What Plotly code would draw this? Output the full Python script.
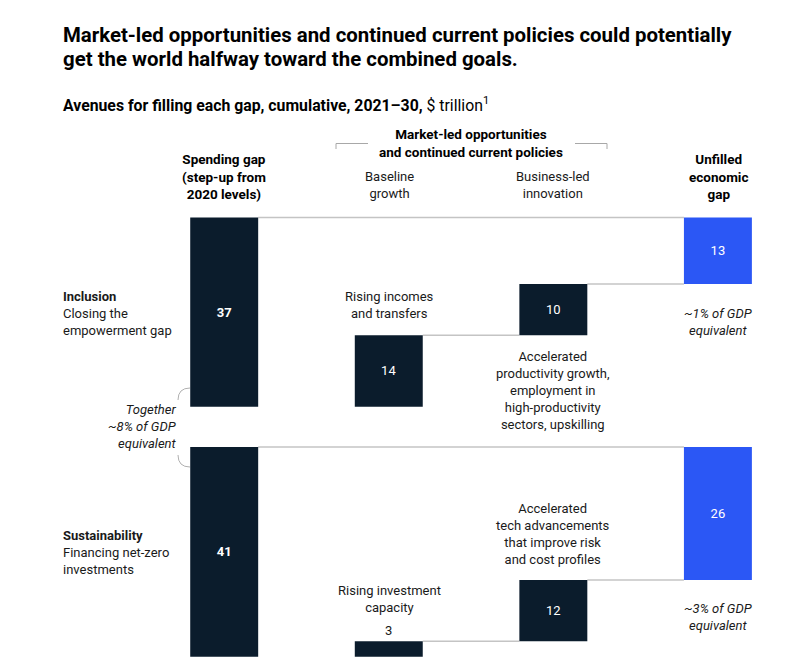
import plotly.graph_objects as go

# values, $ trillion, cumulative 2021-30
columns = ["Spending gap", "Baseline growth", "Business-led innovation", "Unfilled economic gap"]
inclusion_values = [37, 14, 10, 13]
sustainability_values = [41, 3, 12, 26]
bar_kind = ["gap", "avenue", "avenue", "unfilled"]

# the page body keeps its default 8px margin, so the figure is drawn 8px in
PAGE_W, PAGE_H = 804, 672
PAD = 8
W, H = PAGE_W - 2 * PAD, PAGE_H - 2 * PAD
NAVY = "#0b1c2c"
BLUE = "#2b57f5"
GREY_LINE = "#c4c4c4"
TEXT = "#1a1a1a"
FONT = "Roboto"
BAR_W = 0.413


def px(x):
    return (x - PAD) / W


def py(y):
    return 1 - (y - PAD) / H


def bases(values):
    # first bar is the total, the rest stack up from zero
    out = [0]
    run = 0
    for v in values[1:]:
        out.append(run)
        run += v
    return out


def bar_labels(values):
    labels = []
    for i, v in enumerate(values):
        labels.append(f"<b>{v}</b>" if i == 0 else str(v))
    return labels


xs = list(range(len(columns)))
colors = [BLUE if k == "unfilled" else NAVY for k in bar_kind]

fig = go.Figure()
for values, yaxis in [(inclusion_values, "y"), (sustainability_values, "y2")]:
    fig.add_trace(go.Bar(
        x=xs, y=values, base=bases(values), width=BAR_W,
        xaxis="x", yaxis=yaxis,
        marker=dict(color=colors, line=dict(width=0)),
        text=bar_labels(values),
        textposition=["inside" if v >= 5 else "outside" for v in values],
        insidetextanchor="middle", textangle=0, constraintext="none",
        insidetextfont=dict(color="white", size=13, family=FONT),
        outsidetextfont=dict(color=TEXT, size=13, family=FONT),
        cliponaxis=False, hoverinfo="skip", showlegend=False,
    ))

shapes = []
half = BAR_W / 2
for values, yref in [(inclusion_values, "y"), (sustainability_values, "y2")]:
    b = bases(values)
    tops = [b[i] + values[i] for i in range(len(values))]
    # total line from the spending gap across to the unfilled gap
    shapes.append(dict(type="line", xref="x", yref=yref, x0=xs[0] + half, x1=xs[-1] - half,
                       y0=tops[0], y1=tops[0], line=dict(color=GREY_LINE, width=1.5), layer="below"))
    for i in range(1, len(values) - 1):
        shapes.append(dict(type="line", xref="x", yref=yref, x0=xs[i] + half, x1=xs[i + 1] - half,
                           y0=tops[i], y1=tops[i], line=dict(color=GREY_LINE, width=1.5), layer="below"))

# bracket over the market-led columns
shapes.append(dict(type="path", xref="paper", yref="paper",
                   path=f"M {px(336)},{py(149)} L {px(336)},{py(143.5)} L {px(368)},{py(143.5)}",
                   line=dict(color="#a8a8a8", width=1)))
shapes.append(dict(type="path", xref="paper", yref="paper",
                   path=f"M {px(575)},{py(143.5)} L {px(607)},{py(143.5)} L {px(607)},{py(149)}",
                   line=dict(color="#a8a8a8", width=1)))
# curly ends around the "Together" note
shapes.append(dict(type="path", xref="paper", yref="paper",
                   path=f"M {px(190)},{py(388)} Q {px(178)},{py(388)} {px(178)},{py(400)}",
                   line=dict(color="#b0b0b0", width=1)))
shapes.append(dict(type="path", xref="paper", yref="paper",
                   path=f"M {px(178)},{py(455)} Q {px(178)},{py(467)} {px(190)},{py(467)}",
                   line=dict(color="#b0b0b0", width=1)))


def note(text, x, y, size=13, xanchor="center", align="center", color=TEXT):
    return dict(text=text, x=px(x), y=py(y), xref="paper", yref="paper",
                xanchor=xanchor, yanchor="middle", align=align, showarrow=False,
                font=dict(size=size, color=color, family=FONT))


annotations = [
    note("<b>Market-led opportunities and continued current policies could potentially</b>",
         61, 35, size=20.4, xanchor="left", align="left", color="black"),
    note("<b>get the world halfway toward the combined goals.</b>",
         61, 59, size=20.4, xanchor="left", align="left", color="black"),
    note("<b>Avenues for filling each gap, cumulative, 2021–30,</b> $ trillion<sup>1</sup>",
         61, 104, size=15.8, xanchor="left", align="left", color="black"),
    note("<b>Market-led opportunities<br>and continued current policies</b>", 471, 143,
         size=13.5, color="black"),
    note("<b>Spending gap<br>(step-up from<br>2020 levels)</b>", 224, 176.5, size=13.5, color="black"),
    note("Baseline<br>growth", 389, 184.5),
    note("Business-led<br>innovation", 553, 184.5),
    note("<b>Unfilled<br>economic<br>gap</b>", 718, 176, size=13.5, color="black"),
    note("<b>Inclusion</b><br>Closing the<br>empowerment gap", 61, 313.5, xanchor="left", align="left"),
    note("<b>Sustainability</b><br>Financing net-zero<br>investments", 61, 552.5, xanchor="left", align="left"),
    note("<i>Together<br>~8% of GDP<br>equivalent</i>", 179, 426, xanchor="right", align="right"),
    note("Rising incomes<br>and transfers", 389, 305),
    note("Accelerated<br>productivity growth,<br>employment in<br>high-productivity<br>sectors, upskilling",
         553, 390),
    note("<i>~1% of GDP<br>equivalent</i>", 718, 321.5),
    note("Accelerated<br>tech advancements<br>that improve risk<br>and cost profiles", 553, 533.5),
    note("Rising investment<br>capacity", 389, 598.5),
    note("<i>~3% of GDP<br>equivalent</i>", 718, 616.5),
]

# pixel mapping (page pixels): column centres at 224, 389, 553, 718;
# zero lines at 406.8 and 656.7
x_step = 164.57
x_range = [(PAD - 224.2) / x_step, (PAD + W - 224.2) / x_step]
y_scale = 5.115
split = 427
top_range = [(406.8 - split) / y_scale, (406.8 - PAD) / y_scale]
bottom_range = [(656.7 - (PAD + H)) / y_scale, (656.7 - split) / y_scale]
split_paper = 1 - (split - PAD) / H

fig.update_layout(
    width=W, height=H, autosize=False,
    margin=dict(l=0, r=0, t=0, b=0),
    paper_bgcolor="white", plot_bgcolor="white",
    barmode="overlay",
    font=dict(family=FONT, size=13, color=TEXT),
    xaxis=dict(domain=[0, 1], range=x_range, visible=False, fixedrange=True),
    yaxis=dict(domain=[split_paper, 1], range=top_range, visible=False, fixedrange=True),
    yaxis2=dict(domain=[0, split_paper], range=bottom_range, visible=False, fixedrange=True,
                anchor="x"),
    shapes=shapes,
    annotations=annotations,
)

fig.write_html("out.html")
